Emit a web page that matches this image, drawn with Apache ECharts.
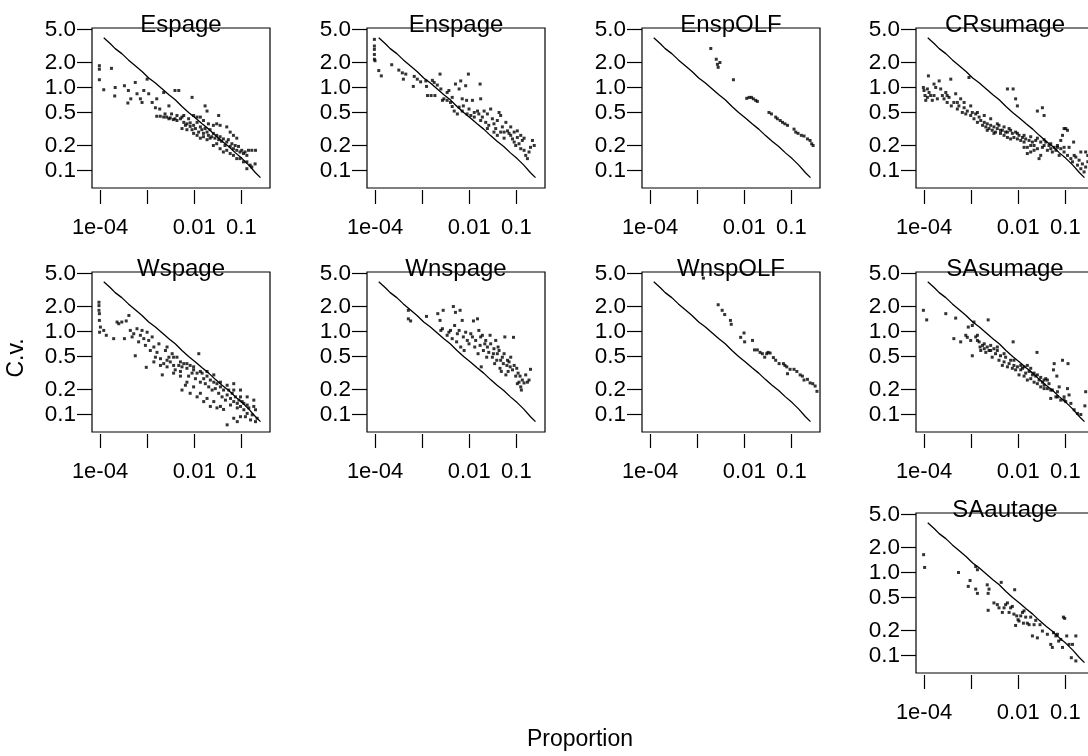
<!DOCTYPE html>
<html><head><meta charset="utf-8">
<script src="https://cdn.jsdelivr.net/npm/echarts@6/dist/echarts.min.js"></script>
<style>html,body{margin:0;padding:0;background:#fff}#c{width:1088px;height:756px}</style>
</head><body><div id="c"></div>
<script>
const PANEL_NAMES = ['Espage','Enspage','EnspOLF','CRsumage','Wspage','Wnspage','WnspOLF','SAsumage','SAautage'];
const X_TICKS = [1e-4, 1e-3, 1e-2, 1e-1];
const X_TICK_LABELS = ['1e-04', '', '0.01', '0.1'];
const Y_TICKS = [0.1, 0.2, 0.5, 1, 2, 5];
const Y_TICK_LABELS = ['0.1', '0.2', '0.5', '1.0', '2.0', '5.0'];
const X_LIMITS = [6.76e-5, 0.406];
const Y_LIMITS = [0.0615, 5.21];
const X_TITLE = 'Proportion';
const Y_TITLE = 'C.v.';

// reference curve (same in every panel)
const REF_LINE = [[1.2e-4,3.97],[1.66e-4,3.37],[2.1e-4,2.94],[2.9e-4,2.56],[4.0e-4,2.15],[5.6e-4,1.83],[7.8e-4,1.56],[1.08e-3,1.3],[1.5e-3,1.13],[2.1e-3,0.96],[2.9e-3,0.82],[3.95e-3,0.71],[5.5e-3,0.59],[7.6e-3,0.5],[0.0106,0.43],[0.0147,0.365],[0.0203,0.315],[0.028,0.265],[0.039,0.225],[0.054,0.195],[0.075,0.163],[0.104,0.139],[0.144,0.116],[0.2,0.094],[0.255,0.082]];

const espage = [[0.97e-4,1.83],[0.97e-4,1.66],[0.97e-4,1.24],[1.2e-4,0.94],[1.75e-4,1.7],[2.1e-4,1.0],[2.05e-4,0.79],[3.3e-4,1.05],[4.0e-4,0.92],[3.9e-4,0.65],[4.5e-4,0.73],[5.6e-4,1.15],[6.1e-4,0.84],[7.2e-4,0.73],[7.8e-4,0.66],[8.5e-4,0.92],[1.0e-3,1.26],[1.08e-3,0.84],[1.28e-3,0.66],[1.5e-3,0.57],[1.6e-3,0.73],[1.85e-3,0.55],[2.25e-3,0.87],[2.9e-3,0.6],[3.9e-3,0.92],[4.7e-3,0.92],[9.0e-3,0.76],[0.017,0.6],[0.0187,0.52],[0.033,0.46],
[1.6e-3,0.45],[1.9e-3,0.45],[2.25e-3,0.44],[2.6e-3,0.44],[3.1e-3,0.43],[3.6e-3,0.41],[4.3e-3,0.4],[5.1e-3,0.42],[6.0e-3,0.38],[6.5e-3,0.35],[7.0e-3,0.365],[7.6e-3,0.42],[8.2e-3,0.34],[9.0e-3,0.31],[9.7e-3,0.35],[0.0106,0.32],[0.0115,0.38],[0.0124,0.29],[0.0135,0.335],[0.0145,0.31],[0.0157,0.28],[0.017,0.32],[0.0187,0.29],[0.02,0.265],[0.0217,0.31],[0.0235,0.255],[0.0255,0.28],[0.0275,0.245],[0.03,0.265],[0.033,0.235],[0.0354,0.255],[0.038,0.225],[0.0416,0.24],[0.045,0.2],[0.049,0.22],[0.053,0.235],[0.058,0.195],[0.063,0.21],[0.068,0.183],[0.074,0.2],[0.08,0.175],[0.087,0.195],[0.094,0.167],[0.102,0.175],[0.111,0.16],[0.12,0.167],[0.131,0.152],[0.142,0.175],[0.167,0.175],[0.2,0.175],[0.094,0.139],[0.111,0.127],[0.131,0.127],[0.154,0.116],[0.167,0.11],[0.196,0.12],[0.131,0.105],
[0.0135,0.245],[0.0115,0.265],[7.0e-3,0.31],[5.5e-3,0.32],[0.0187,0.235],[0.0255,0.2],[0.0354,0.183],[0.049,0.175],[0.068,0.152],[0.08,0.139],[0.058,0.16],[0.0416,0.167],[0.03,0.21],[0.0217,0.245],[0.0157,0.255],[9.7e-3,0.28],[8.2e-3,0.375],[6.0e-3,0.46],[4.3e-3,0.46],[3.3e-3,0.48],[2.4e-3,0.48],[5.5e-3,0.44],[3.9e-3,0.42],[2.9e-3,0.42],[0.068,0.265],[0.08,0.245],[0.058,0.29],[0.049,0.335],[0.0354,0.35],[0.03,0.365],[0.0255,0.35],[0.02,0.365],[0.0157,0.4],[0.0135,0.44],[0.0115,0.44],[9.7e-3,0.46]];

const enspage = [[0.97e-4,3.8],[0.97e-4,3.16],[0.97e-4,2.88],[0.97e-4,2.5],[0.97e-4,2.19],[1.0e-4,2.1],[1.2e-4,1.6],[1.36e-4,1.38],[2.26e-4,1.88],[3.2e-4,1.62],[3.8e-4,1.5],[4.0e-4,1.26],[4.5e-4,1.45],[6.5e-4,1.03],[6.8e-4,1.36],[7.9e-4,1.26],[9.3e-4,1.17],[1.2e-3,1.2],[1.24e-3,1.03],[1.3e-3,0.8],[1.55e-3,0.8],[1.65e-3,1.22],[1.8e-3,1.15],[1.87e-3,0.8],[2.1e-3,1.07],[2.4e-3,1.45],[2.5e-3,0.96],[2.7e-3,0.7],[2.9e-3,0.73],[3.4e-3,0.87],[3.7e-3,0.92],[4.0e-3,0.66],[4.35e-3,0.76],[4.8e-3,0.52],[5.1e-3,1.1],[5.6e-3,0.48],[6.1e-3,0.96],[6.6e-3,1.2],[7.1e-3,0.73],[7.5e-3,0.6],[8.4e-3,1.05],[8.8e-3,0.7],[9.6e-3,1.45],[9.9e-3,0.55],[0.0108,0.46],[0.0117,0.7],[0.0128,0.5],[0.015,0.52],[0.016,0.48],[0.017,1.1],[0.0175,0.73],[0.019,0.44],[0.0207,0.52],[0.0224,0.38],[0.0243,0.48],[0.026,0.35],[0.0285,0.55],[0.031,0.42],[0.0335,0.365],[0.0365,0.32],[0.0395,0.4],[0.043,0.5],[0.0465,0.46],[0.0505,0.335],[0.055,0.29],[0.06,0.38],[0.065,0.3],[0.07,0.28],[0.076,0.335],[0.083,0.24],[0.09,0.29],[0.097,0.2],[0.105,0.25],[0.114,0.21],[0.124,0.183],[0.134,0.23],[0.146,0.175],[0.158,0.152],[0.172,0.139],[0.186,0.167],[0.2,0.19],[0.22,0.23],[0.24,0.2],[0.146,0.245],[0.105,0.3],[0.076,0.265],[0.055,0.245],[0.0395,0.265],[0.0335,0.29],[0.0243,0.32],[0.0175,0.4],[0.0128,0.44],[0.009,0.48],[7.1e-3,0.52],[6.1e-3,0.58],[4.35e-3,0.59],[3.4e-3,0.7],[0.0465,0.29],[0.09,0.22],[0.124,0.265]];

const enspOLF = [[1.95e-3,2.95],[2.55e-3,2.19],[2.7e-3,1.9],[2.8e-3,1.75],[3.05e-3,2.0],[5.9e-3,1.24],[0.0113,0.74],[0.0127,0.76],[0.0142,0.76],[0.0156,0.73],[0.0175,0.7],[0.019,0.68],[0.0335,0.5],[0.0378,0.48],[0.0465,0.44],[0.0505,0.42],[0.058,0.4],[0.065,0.38],[0.073,0.365],[0.083,0.35],[0.114,0.315],[0.124,0.29],[0.139,0.28],[0.163,0.265],[0.186,0.26],[0.22,0.24],[0.25,0.23],[0.27,0.21],[0.29,0.2]];

const crsumage = [[0.97e-4,1.0],[1.0e-4,0.92],[1.05e-4,0.8],[1.09e-4,0.7],[1.18e-4,0.96],[1.24e-4,1.38],[1.28e-4,0.87],[1.38e-4,0.8],[1.5e-4,0.7],[1.63e-4,1.1],[1.77e-4,1.0],[1.92e-4,0.73],[2.1e-4,1.2],[2.26e-4,0.96],[2.45e-4,0.8],[2.66e-4,0.73],[2.9e-4,0.87],[3.1e-4,0.66],[3.4e-4,0.76],[3.7e-4,1.26],[3.8e-4,0.6],[4.3e-4,0.66],[4.7e-4,0.84],[5.1e-4,0.55],[5.5e-4,0.6],[6.0e-4,0.73],[6.5e-4,0.5],[7.1e-4,0.57],[7.7e-4,0.48],[8.3e-4,0.52],[9.0e-4,1.32],[9.8e-4,0.46],[1.06e-3,0.5],[1.15e-3,0.42],[1.25e-3,0.48],[1.36e-3,0.38],[1.48e-3,0.44],[1.6e-3,0.4],[1.75e-3,0.35],[1.9e-3,0.38],[2.05e-3,0.335],[2.2e-3,0.365],[2.4e-3,0.32],[2.6e-3,0.35],[2.8e-3,0.305],[3.05e-3,0.335],[3.3e-3,0.29],[3.6e-3,0.32],[3.9e-3,0.35],[4.2e-3,0.28],[4.6e-3,0.305],[5.0e-3,0.265],[5.4e-3,0.29],[5.9e-3,0.25],[6.4e-3,0.32],[6.9e-3,0.24],[7.5e-3,0.28],[8.1e-3,0.25],[8.8e-3,0.29],[9.6e-3,0.24],[0.0104,0.265],[0.0113,0.23],[0.0123,0.25],[0.0133,0.22],[0.0144,0.24],[0.0156,0.19],[0.017,0.23],[0.0184,0.167],[0.02,0.22],[0.0217,0.2],[0.0235,0.23],[0.0255,0.183],[0.0277,0.139],[0.03,0.22],[0.0326,0.19],[0.0354,0.2],[0.0384,0.22],[0.0416,0.175],[0.045,0.2],[0.049,0.183],[0.053,0.167],[0.058,0.19],[0.063,0.175],[0.068,0.2],[0.074,0.152],[0.08,0.183],[0.087,0.265],[0.094,0.167],[0.102,0.32],[0.111,0.152],[0.12,0.19],[0.131,0.139],[0.142,0.127],[0.154,0.152],[0.167,0.145],[0.181,0.116],[0.196,0.133],[0.213,0.105],[0.23,0.12],[0.25,0.096],[0.27,0.11],[0.3,0.127],[0.27,0.167],[0.213,0.167],[0.3,0.152],
[5.9e-3,0.96],[7.8e-3,0.96],[8.8e-3,0.73],[9.6e-3,0.6],[0.0255,0.52],[0.0326,0.57],[0.0354,0.46],[0.094,0.32],[0.111,0.305],[0.08,0.23],[0.15,0.22],
[1.36e-3,0.5],[1.9e-3,0.46],[2.6e-3,0.42],[3.6e-3,0.365],[5.0e-3,0.335],[6.9e-3,0.305],[9.6e-3,0.28],[0.0133,0.265],[0.0184,0.255],[0.0255,0.245],[0.0354,0.235],[0.049,0.21],[0.068,0.19],[0.094,0.19],[2.2e-3,0.305],[3.05e-3,0.28],[4.2e-3,0.305],[5.9e-3,0.29],[0.0156,0.16],[0.0217,0.175],[0.03,0.152],[0.0184,0.2],[0.0133,0.19],[9.8e-4,0.6],[7.1e-4,0.66],[5.1e-4,0.66],[3.1e-4,0.8],[1.63e-4,0.8],[1.18e-4,0.76]];

const wspage = [[0.95e-4,2.25],[0.95e-4,2.05],[0.95e-4,1.8],[0.97e-4,1.64],[0.97e-4,1.36],[1.02e-4,1.13],[0.98e-4,0.98],[1.2e-4,1.03],[1.36e-4,0.9],[1.95e-4,0.82],[2.3e-4,1.3],[2.5e-4,1.24],[2.9e-4,1.3],[3.3e-4,0.82],[3.6e-4,1.34],[4.1e-4,1.56],[4.4e-4,1.03],[4.8e-4,0.86],[5.2e-4,0.94],[5.6e-4,0.51],[6.1e-4,1.08],[6.6e-4,0.75],[7.2e-4,0.9],[7.8e-4,1.03],[8.5e-4,0.82],[9.2e-4,0.68],[9.6e-4,0.37],[1.0e-3,0.98],[1.08e-3,0.78],[1.17e-3,0.59],[1.28e-3,0.86],[1.39e-3,0.65],[1.5e-3,0.49],[1.62e-3,0.56],[1.78e-3,0.71],[1.92e-3,0.47],[2.1e-3,0.3],[2.25e-3,0.41],[2.45e-3,0.59],[2.65e-3,0.65],[2.9e-3,0.49],[3.1e-3,0.43],[3.4e-3,0.54],[3.65e-3,0.39],[3.95e-3,0.345],[4.3e-3,0.49],[4.7e-3,0.39],[5.1e-3,0.33],[5.5e-3,0.375],[6.0e-3,0.41],[6.5e-3,0.225],[7.0e-3,0.36],[7.6e-3,0.29],[8.2e-3,0.39],[9.0e-3,0.315],[9.7e-3,0.345],[0.0106,0.27],[0.0115,0.315],[0.0125,0.54],[0.0135,0.245],[0.0147,0.315],[0.0159,0.27],[0.0172,0.235],[0.0187,0.29],[0.0203,0.215],[0.022,0.26],[0.024,0.197],[0.026,0.245],[0.028,0.205],[0.0304,0.235],[0.033,0.18],[0.036,0.215],[0.039,0.163],[0.042,0.197],[0.046,0.149],[0.05,0.172],[0.054,0.197],[0.059,0.156],[0.064,0.18],[0.069,0.143],[0.075,0.163],[0.082,0.136],[0.089,0.149],[0.096,0.125],[0.104,0.143],[0.113,0.114],[0.122,0.094],[0.133,0.103],[0.144,0.12],[0.157,0.086],[0.17,0.099],[0.184,0.149],[0.2,0.082],[0.216,0.09],[0.05,0.075],[0.082,0.082],[0.096,0.094],[0.069,0.09],
[0.036,0.125],[0.026,0.143],[0.0187,0.156],[0.0135,0.18],[9.7e-3,0.215],[7.0e-3,0.245],[5.1e-3,0.29],[3.65e-3,0.315],[2.65e-3,0.375],[1.92e-3,0.39],[1.39e-3,0.43],[2.65e-3,0.45],[3.65e-3,0.49],[5.1e-3,0.43],[7.0e-3,0.41],[9.7e-3,0.375],[0.0135,0.33],[0.0187,0.33],[0.026,0.3],[0.036,0.245],[0.05,0.225],[0.069,0.197],[0.096,0.163],[0.133,0.13],[0.059,0.13],[0.042,0.115],[0.0304,0.12],[0.022,0.125],[0.0159,0.143],[0.0115,0.163],[8.2e-3,0.18],[5.5e-3,0.197],[0.082,0.12],[0.113,0.136],[0.133,0.163],[0.069,0.235],[0.096,0.197],[0.184,0.125],[0.2,0.114]];

const wnspage = [[5.1e-4,1.8],[5.1e-4,1.42],[5.7e-4,1.34],[1.24e-3,1.52],[2.15e-3,1.64],[2.4e-3,1.36],[2.5e-3,1.03],[2.7e-3,1.08],[2.8e-3,1.8],[3.4e-3,0.9],[3.7e-3,0.98],[4.0e-3,1.03],[4.35e-3,0.82],[4.6e-3,2.0],[4.9e-3,1.18],[5.1e-3,1.7],[5.4e-3,0.75],[5.6e-3,0.94],[6.1e-3,1.03],[6.4e-3,1.8],[6.6e-3,0.65],[7.1e-3,1.36],[7.5e-3,0.86],[7.8e-3,0.59],[8.4e-3,0.98],[9.1e-3,0.78],[9.9e-3,0.71],[0.0108,0.94],[0.0117,0.86],[0.0123,1.34],[0.0131,0.65],[0.0137,0.78],[0.015,1.42],[0.0154,0.54],[0.016,1.03],[0.017,0.68],[0.0175,0.86],[0.018,0.375],[0.019,0.9],[0.02,0.59],[0.0214,0.71],[0.0224,0.78],[0.0235,0.49],[0.0243,0.65],[0.026,0.56],[0.0277,0.9],[0.0285,0.71],[0.031,0.49],[0.0326,0.54],[0.0335,0.62],[0.0346,0.41],[0.0365,0.78],[0.0384,0.45],[0.0395,0.54],[0.041,0.65],[0.043,0.59],[0.045,0.36],[0.0465,0.45],[0.048,0.33],[0.0505,0.49],[0.053,0.41],[0.055,0.54],[0.057,0.86],[0.06,0.3],[0.063,0.39],[0.065,0.45],[0.067,0.33],[0.07,0.43],[0.074,0.375],[0.076,0.49],[0.083,0.345],[0.087,0.85],[0.09,0.39],[0.097,0.29],[0.102,0.36],[0.105,0.235],[0.109,0.315],[0.114,0.245],[0.12,0.29],[0.124,0.215],[0.128,0.197],[0.134,0.26],[0.146,0.24],[0.158,0.3],[0.172,0.245],[0.186,0.26],[0.2,0.35]];

const wnspOLF = [[1.36e-3,4.4],[2.8e-3,2.1],[3.4e-3,1.8],[3.85e-3,1.6],[5.1e-3,1.36],[5.3e-3,1.22],[8.4e-3,0.85],[9.9e-3,0.96],[0.0102,0.75],[0.015,0.78],[0.0165,0.6],[0.019,0.6],[0.0217,0.56],[0.0243,0.54],[0.0272,0.49],[0.03,0.54],[0.032,0.56],[0.0354,0.55],[0.0416,0.485],[0.0465,0.45],[0.055,0.41],[0.068,0.41],[0.073,0.39],[0.08,0.375],[0.083,0.31],[0.094,0.35],[0.114,0.35],[0.131,0.33],[0.154,0.3],[0.172,0.29],[0.186,0.26],[0.22,0.265],[0.25,0.24],[0.285,0.235],[0.32,0.22],[0.35,0.19],[0.41,0.17]];

const sasumage = [[0.97e-4,1.8],[1.14e-4,1.38],[2.9e-4,1.64],[4.3e-4,0.82],[4.7e-4,1.45],[6.0e-4,0.75],[7.7e-4,0.9],[8.3e-4,0.85],[8.7e-4,1.13],[9.8e-4,0.78],[1.06e-3,1.18],[1.06e-3,0.51],[1.15e-3,1.3],[1.25e-3,0.86],[1.36e-3,0.9],[1.48e-3,0.75],[1.55e-3,0.65],[1.6e-3,0.59],[1.75e-3,0.68],[1.9e-3,0.62],[2.05e-3,0.56],[2.2e-3,0.65],[2.3e-3,1.38],[2.4e-3,0.59],[2.6e-3,0.68],[2.8e-3,0.49],[3.05e-3,0.62],[3.3e-3,0.54],[3.6e-3,0.59],[3.9e-3,0.45],[4.2e-3,0.51],[4.6e-3,0.39],[5.0e-3,0.43],[5.4e-3,0.49],[5.9e-3,0.375],[6.4e-3,0.41],[6.9e-3,0.45],[7.5e-3,0.36],[7.8e-3,0.75],[8.1e-3,0.39],[8.8e-3,0.345],[9.6e-3,0.375],[0.0104,0.3],[0.0113,0.345],[0.0123,0.36],[0.0133,0.29],[0.0144,0.315],[0.0156,0.26],[0.017,0.33],[0.0184,0.27],[0.02,0.3],[0.0217,0.245],[0.0235,0.29],[0.025,0.56],[0.0255,0.235],[0.0277,0.26],[0.03,0.215],[0.0326,0.245],[0.0354,0.225],[0.0384,0.27],[0.0416,0.205],[0.045,0.235],[0.049,0.156],[0.053,0.197],[0.056,0.345],[0.058,0.41],[0.063,0.163],[0.066,0.29],[0.068,0.188],[0.074,0.215],[0.08,0.149],[0.087,0.45],[0.094,0.163],[0.102,0.143],[0.111,0.205],[0.114,0.41],[0.12,0.172],[0.131,0.136],[0.154,0.114],[0.181,0.103],[0.213,0.1],[0.27,0.188],[0.26,0.127],
[0.0184,0.36],[0.0156,0.39],[0.0217,0.315],[0.0255,0.3],[0.03,0.28],[0.0354,0.26],[0.0416,0.26],[0.0133,0.375],[0.0113,0.39],[0.0354,0.205],[0.049,0.197],[0.068,0.163],[0.094,0.15],[8.1e-3,0.45],[5.0e-3,0.54],[3.6e-3,0.65],[2.6e-3,0.59],[1.9e-3,0.71],[1.36e-3,0.78]];

const saautage = [[0.98e-4,1.64],[1.03e-4,1.15],[5.4e-4,1.0],[9.5e-4,0.8],[8.7e-4,0.68],[1.25e-3,1.18],[1.36e-3,1.08],[1.25e-3,0.63],[1.36e-3,0.56],[2.2e-3,0.71],[2.4e-3,0.63],[2.3e-3,0.56],[2.3e-3,0.35],[3.05e-3,0.43],[3.6e-3,0.41],[3.9e-3,0.375],[4.35e-3,0.76],[4.6e-3,0.33],[5.0e-3,0.375],[5.4e-3,0.41],[5.9e-3,0.43],[6.4e-3,0.33],[6.9e-3,0.375],[7.5e-3,0.39],[8.1e-3,0.315],[8.4e-3,0.62],[8.8e-3,0.23],[9.3e-3,0.3],[9.9e-3,0.27],[0.0104,0.26],[0.0113,0.3],[0.0123,0.33],[0.0129,0.245],[0.0133,0.345],[0.0144,0.29],[0.0156,0.245],[0.017,0.235],[0.0184,0.29],[0.02,0.172],[0.0217,0.235],[0.0235,0.265],[0.0255,0.163],[0.029,0.235],[0.0326,0.197],[0.0416,0.18],[0.049,0.136],[0.053,0.125],[0.056,0.188],[0.063,0.172],[0.068,0.18],[0.072,0.149],[0.08,0.156],[0.087,0.125],[0.091,0.29],[0.097,0.28],[0.107,0.172],[0.12,0.136],[0.142,0.136],[0.134,0.094],[0.167,0.172],[0.167,0.086]];

const PANEL_DATA = [espage, enspage, enspOLF, crsumage, wspage, wnspage, wnspOLF, sasumage, saautage];

// layout (pixel boxes of the panels)
const BOX_W = 178, BOX_H = 160;
const BOX_POS = [[92,28],[367,28],[642,28],[916,28],[92,272],[367,272],[642,272],[916,272],[916,513]];
const FONT = "'Liberation Sans', Arial, Helvetica, sans-serif";
const L = v => Math.log10(v);
const findLabel = (ticks, labels, v) => {
  for (let i = 0; i < ticks.length; i++) if (Math.abs(L(ticks[i]) - v) < 1e-6) return labels[i];
  return '';
};

const grids = [], xAxes = [], yAxes = [], series = [], titles = [];
PANEL_NAMES.forEach((name, i) => {
  const [left, top] = BOX_POS[i];
  grids.push({left, top, width: BOX_W, height: BOX_H, show: true, borderColor: '#000', borderWidth: 1.2,
    backgroundColor: 'transparent', containLabel: false, outerBoundsMode: 'none'});
  xAxes.push({type: 'value', gridIndex: i, min: L(X_LIMITS[0]), max: L(X_LIMITS[1]), position: 'bottom', offset: 2,
    axisLine: {show: false, onZero: false}, splitLine: {show: false},
    axisTick: {show: true, length: 14, customValues: X_TICKS.map(L), lineStyle: {color: '#000', width: 1.2}},
    axisLabel: {customValues: X_TICKS.map(L), formatter: v => findLabel(X_TICKS, X_TICK_LABELS, v), margin: 27,
      fontSize: 22, color: '#000', fontFamily: FONT}});
  yAxes.push({type: 'value', gridIndex: i, min: L(Y_LIMITS[0]), max: L(Y_LIMITS[1]), position: 'left',
    axisLine: {show: false, onZero: false}, splitLine: {show: false},
    axisTick: {show: true, length: 15, customValues: Y_TICKS.map(L), lineStyle: {color: '#000', width: 1.2}},
    axisLabel: {customValues: Y_TICKS.map(L), formatter: v => findLabel(Y_TICKS, Y_TICK_LABELS, v), margin: 16,
      fontSize: 22.5, color: '#000', fontFamily: FONT}});
  series.push({type: 'scatter', xAxisIndex: i, yAxisIndex: i, symbol: 'rect', symbolSize: 3, clip: true,
    itemStyle: {color: '#000'}, data: PANEL_DATA[i].map(p => [L(p[0]), L(p[1])])});
  series.push({type: 'line', xAxisIndex: i, yAxisIndex: i, showSymbol: false, clip: true, silent: true,
    lineStyle: {color: '#000', width: 1.3}, data: REF_LINE.map(p => [L(p[0]), L(p[1])])});
  titles.push({text: name, left: left + BOX_W / 2, top: top - 15, textAlign: 'center', padding: 0,
    textStyle: {fontSize: 24, fontWeight: 'normal', color: '#000', fontFamily: FONT}});
});

const chart = echarts.init(document.getElementById('c'), null, {renderer: 'canvas'});
chart.setOption({
  animation: false,
  backgroundColor: '#fff',
  title: titles,
  grid: grids, xAxis: xAxes, yAxis: yAxes, series,
  graphic: [
    {type: 'text', x: 17, y: 358, rotation: Math.PI / 2,
      style: {text: Y_TITLE, fontSize: 23, fontFamily: FONT, fill: '#000', align: 'center', verticalAlign: 'middle'}},
    {type: 'text', x: 580, y: 740,
      style: {text: X_TITLE, fontSize: 23, fontFamily: FONT, fill: '#000', align: 'center', verticalAlign: 'middle'}}
  ]
});
</script></body></html>
